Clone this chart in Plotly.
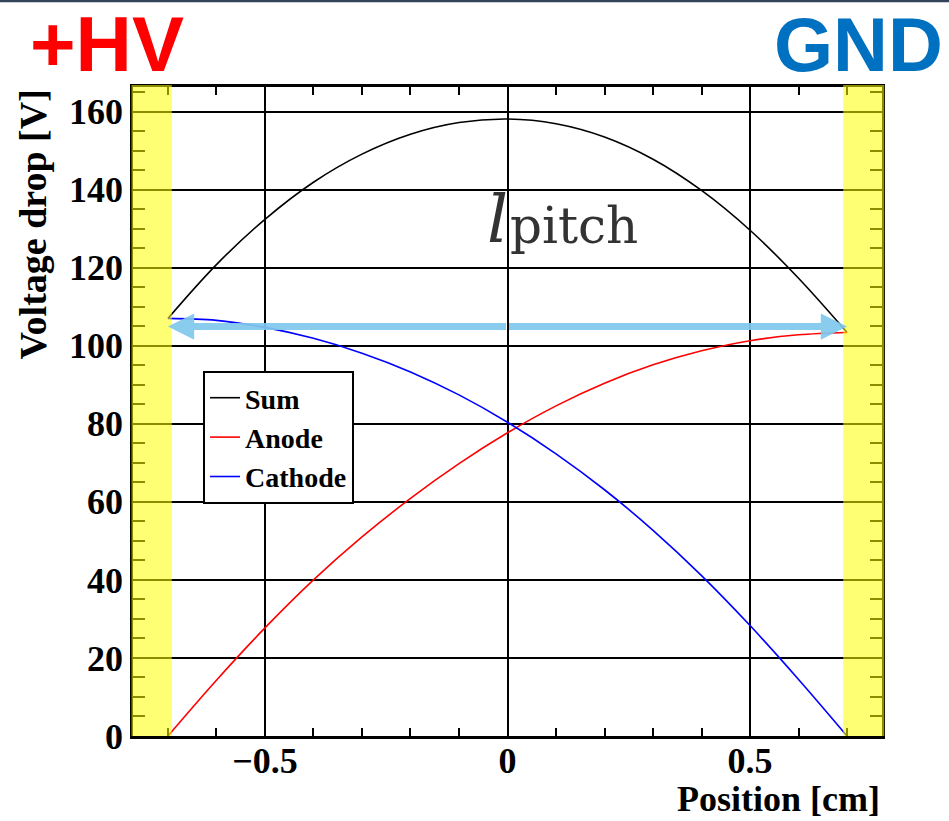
import plotly.graph_objects as go

# ---- data ----
position_cm = [-0.7, -0.6, -0.5, -0.4, -0.3, -0.2, -0.1, 0.0, 0.1, 0.2, 0.3, 0.4, 0.5, 0.6, 0.7]
sum_v = [107.0, 120.8, 132.4, 141.9, 149.1, 154.2, 157.2, 158.1, 156.9, 153.5, 147.8, 139.8, 129.6, 117.3, 103.4]
anode_v = [0.0, 14.3, 27.7, 40.0, 51.0, 60.9, 69.8, 77.7, 84.6, 90.4, 95.1, 98.7, 101.3, 102.8, 103.4]
cathode_v = [107.0, 106.5, 104.7, 101.9, 98.1, 93.3, 87.4, 80.4, 72.3, 63.1, 52.7, 41.1, 28.3, 14.5, 0.0]
series_names = ["Sum", "Anode", "Cathode"]
series_colors = ["black", "red", "blue"]
electrode_edges = [-0.692, 0.692]
arrow_ends = [-0.7, 0.7]
pitch_arrow_level = 104.9
x_ticks = [-0.5, 0, 0.5]
x_tick_text = ["\u22120.5", "0", "0.5"]
y_ticks = [0, 20, 40, 60, 80, 100, 120, 140, 160]

X_RANGE = [-0.772, 0.772]
Y_RANGE = [0, 166.3]

SERIF = "Liberation Serif, Times New Roman, serif"

fig = go.Figure()
for name, vals, col in zip(series_names, [sum_v, anode_v, cathode_v], series_colors):
    fig.add_trace(go.Scatter(
        x=position_cm, y=vals, mode="lines", name=name,
        line=dict(color=col, width=1.6, shape="spline", smoothing=1.0),
        legendgroup=name,
    ))

def to_paper(xv):
    return (xv - X_RANGE[0]) / (X_RANGE[1] - X_RANGE[0])

shapes = []
# yellow electrode bands (drawn above, semi-transparent)
shapes.append(dict(type="rect", xref="paper", yref="paper",
                   x0=-0.002, x1=to_paper(electrode_edges[0]), y0=0, y1=1.003,
                   fillcolor="rgba(255,255,0,0.55)", line=dict(width=0), layer="above"))
shapes.append(dict(type="rect", xref="paper", yref="paper",
                   x0=to_paper(electrode_edges[1]), x1=1.003, y0=0, y1=1.003,
                   fillcolor="rgba(255,255,0,0.55)", line=dict(width=0), layer="above"))
# dark strip at very top of the slide
shapes.append(dict(type="rect", xref="paper", yref="paper",
                   x0=-0.18, x1=1.09, y0=1.1305, y1=1.14,
                   fillcolor="#33445a", line=dict(width=0), layer="above"))

annotations = []
# double-headed light blue arrow (two arrows from the middle)
arrow_col = "rgba(128,200,236,0.92)"
for end in arrow_ends:
    annotations.append(dict(x=end, y=pitch_arrow_level, xref="x", yref="y",
                            ax=0, ay=pitch_arrow_level, axref="x", ayref="y",
                            showarrow=True, arrowhead=2, arrowsize=0.75, arrowwidth=7,
                            arrowcolor=arrow_col, text=""))
# l_pitch label (mathematical italic small l)
annotations.append(dict(x=0.006, y=132.4, xref="x", yref="y", text="\U0001D459",
                        showarrow=False, xanchor="right", yanchor="middle",
                        font=dict(family="DejaVu Serif, DejaVu Sans, serif", size=66, color="#333333")))
annotations.append(dict(x=0.0, y=130.8, xref="x", yref="y", text="pitch",
                        showarrow=False, xanchor="left", yanchor="middle",
                        font=dict(family="DejaVu Serif, serif", size=50, color="#333333")))
# +HV and GND
annotations.append(dict(x=-0.14, y=1.066, xref="paper", yref="paper", text="+HV",
                        showarrow=False, xanchor="left", yanchor="middle",
                        font=dict(family="Liberation Sans Narrow, Liberation Sans, Arial, sans-serif",
                                  size=78, color="#ff0000", weight="bold")))
annotations.append(dict(x=1.084, y=1.066, xref="paper", yref="paper", text="GND",
                        showarrow=False, xanchor="right", yanchor="middle",
                        font=dict(family="Liberation Sans Narrow, Liberation Sans, Arial, sans-serif",
                                  size=76, color="#0070c0", weight="bold")))
# axis titles (ROOT style: aligned to the axis end)
annotations.append(dict(x=-0.133, y=1.0, xref="paper", yref="paper", text="Voltage drop [V]",
                        showarrow=False, xanchor="center", yanchor="top", textangle=-90,
                        font=dict(family=SERIF, size=38, color="black", weight="bold")))
annotations.append(dict(x=1.0, y=-0.1315, xref="paper", yref="paper", text="Position [cm]",
                        showarrow=False, xanchor="right", yanchor="bottom",
                        font=dict(family=SERIF, size=36, color="black", weight="bold")))

fig.update_layout(
    width=949, height=821,
    margin=dict(l=133, r=67, t=87, b=85),
    paper_bgcolor="white", plot_bgcolor="white",
    showlegend=True,
    legend=dict(x=0.0935, y=0.5624, xanchor="left", yanchor="top",
                bgcolor="white", bordercolor="black", borderwidth=2,
                font=dict(family=SERIF, size=28, color="black", weight="bold"),
                tracegroupgap=0, itemwidth=30),
    shapes=shapes,
    annotations=annotations,
)
fig.update_xaxes(range=X_RANGE, tickvals=x_ticks, ticktext=x_tick_text,
                 showgrid=True, gridcolor="black", gridwidth=1.6, zeroline=False,
                 showline=True, linecolor="black", linewidth=2.5, mirror="allticks",
                 ticks="inside", ticklen=14, tickcolor="black", tickwidth=1.6,
                 ticklabelstandoff=-9,
                 minor=dict(dtick=0.1, tick0=0, ticks="inside", ticklen=8, tickcolor="black", tickwidth=1.6),
                 tickfont=dict(family=SERIF, size=36, color="black", weight="bold"))
fig.update_yaxes(range=Y_RANGE, tickvals=y_ticks,
                 showgrid=True, gridcolor="black", gridwidth=1.6, zeroline=False,
                 showline=True, linecolor="black", linewidth=2.5, mirror="allticks",
                 ticks="inside", ticklen=20, tickcolor="black", tickwidth=1.6,
                 minor=dict(dtick=5, tick0=0, ticks="inside", ticklen=12, tickcolor="black", tickwidth=1.6),
                 tickfont=dict(family=SERIF, size=36, color="black", weight="bold"))

fig.write_html("out.html")
